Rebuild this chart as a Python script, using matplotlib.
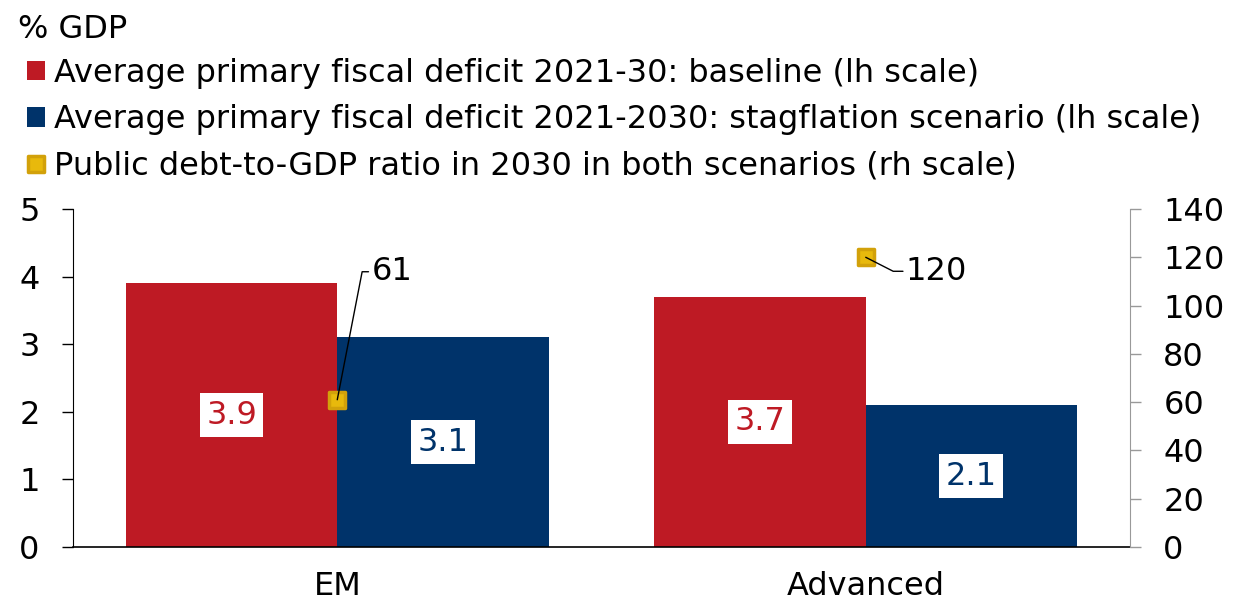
import matplotlib
matplotlib.use('Agg')
import matplotlib.pyplot as plt
from matplotlib.markers import MarkerStyle
import numpy as np

plt.rcParams['font.family'] = ['DejaVu Sans']

# Datos
categories = ["EM", "Advanced"]
deficit_baseline = [3.9, 3.7]
deficit_stagflation = [3.1, 2.1]
debt_2030 = [61, 120]

labels = [
    "Average primary fiscal deficit 2021-30: baseline (lh scale)",
    "Average primary fiscal deficit 2021-2030: stagflation scenario (lh scale)",
    "Public debt-to-GDP ratio in 2030 in both scenarios (rh scale)",
]

RED = "#BE1A24"
NAVY = "#00336A"
GOLD = "#E8B90C"
GOLD_EDGE = "#D2A10A"
FS = 23

fig = plt.figure(figsize=(12.42, 6.07), dpi=100)
ax = fig.add_axes([0.0588, 0.0988, 0.851, 0.5569])
ax2 = ax.twinx()

x = np.arange(len(categories))
w = 0.4
b1 = ax.bar(x - w / 2, deficit_baseline, w, color=RED, label=labels[0])
b2 = ax.bar(x + w / 2, deficit_stagflation, w, color=NAVY, label=labels[1])

# Rótulos de valor no meio das barras
for bars, vals, col in [(b1, deficit_baseline, RED), (b2, deficit_stagflation, NAVY)]:
    for rect, v in zip(bars, vals):
        ax.text(rect.get_x() + rect.get_width() / 2, v / 2, f"{v:.1f}",
                ha='center', va='center', fontsize=FS, color=col,
                bbox=dict(boxstyle='square,pad=0.2', fc='white', ec='none'))

ax.set_xlim(-0.5, 1.5)
ax.set_ylim(0, 5)
ax.set_yticks(range(0, 6))
ax.set_xticks(x)
ax.set_xticklabels(categories)
ax.tick_params(axis='x', length=0, pad=17, labelsize=FS)
ax.tick_params(axis='y', length=8, width=1, direction='out', pad=16,
               labelsize=FS, color='black')
for s in ['top', 'right']:
    ax.spines[s].set_visible(False)
ax.spines['left'].set_color('black')
ax.spines['bottom'].set_color('black')
ax.spines['bottom'].set_linewidth(1.2)

# Dívida pública (eixo da direita)
rounded_sq = MarkerStyle('s', joinstyle='round')
mk, = ax2.plot(x, debt_2030, linestyle='none', marker=rounded_sq, markersize=12,
               markerfacecolor=GOLD, markeredgecolor=GOLD_EDGE,
               markeredgewidth=2.5, label=labels[2], zorder=5)
ax2.set_ylim(0, 140)
ax2.set_yticks(range(0, 141, 20))
ax2.tick_params(axis='y', length=8, width=1, direction='out', pad=16,
                labelsize=FS, color='#999999')
for s in ['top', 'left', 'bottom']:
    ax2.spines[s].set_visible(False)
ax2.spines['right'].set_color('#999999')

offsets = [(34, 128), (40, -14)]
angles = [79, -27]
for xi, v, off, ang in zip(x, debt_2030, offsets, angles):
    ax2.annotate(f"{v}", xy=(xi, v), xytext=off, textcoords='offset pixels',
                 ha='left', va='center', fontsize=FS, zorder=6,
                 arrowprops=dict(arrowstyle='-', color='black', lw=1,
                                 shrinkA=0, shrinkB=0, relpos=(0, 0.5),
                                 connectionstyle=f"angle,angleA=0,angleB={ang},rad=0"))

fig.text(18 / 1242, 1 - 29 / 607, "% GDP", fontsize=FS, va='center', ha='left')
fig.legend(handles=[b1, b2, mk], labels=labels, loc='upper left',
           bbox_to_anchor=(27 / 1242, 1 - 58 / 607), borderaxespad=0, borderpad=0,
           frameon=False, fontsize=FS, handlelength=0.55, handleheight=0.55,
           handletextpad=0.3, labelspacing=0.48, markerscale=1.0)

fig.savefig("out.png", dpi=100)
